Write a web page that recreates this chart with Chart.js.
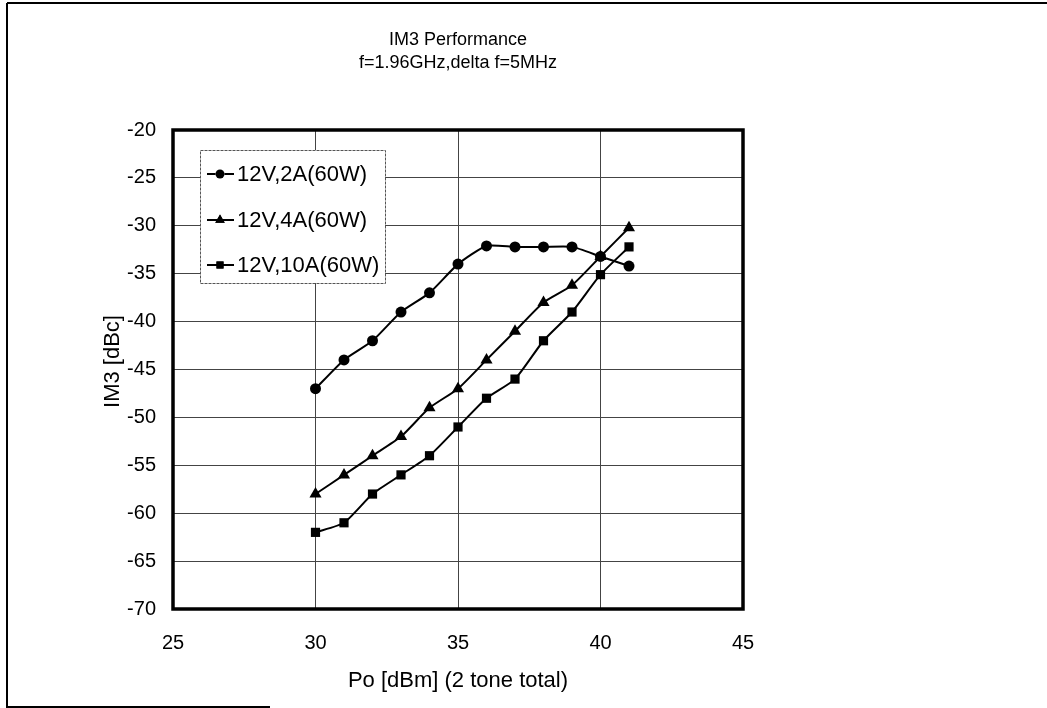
<!DOCTYPE html>
<html>
<head>
<meta charset="utf-8">
<script src="https://cdn.jsdelivr.net/npm/chart.js@4/dist/chart.umd.min.js"></script>
<style>
html,body{margin:0;padding:0;background:#fff;}
#wrap{width:1047px;height:708px;position:relative;}
</style>
</head>
<body>
<div id="wrap"><canvas id="c" width="1047" height="708"></canvas></div>
<script>
const titleLines = ["IM3 Performance", "f=1.96GHz,delta f=5MHz"];
const xTitle = "Po [dBm] (2 tone total)";
const yTitle = "IM3 [dBc]";
const poValues = [30, 31, 32, 33, 34, 35, 36, 37, 38, 39, 40, 41];
const seriesLabels = ["12V,2A(60W)", "12V,4A(60W)", "12V,10A(60W)"];
const im3_2A = [-47, -44, -42, -39, -37, -34, -32.1, -32.2, -32.2, -32.2, -33.2, -34.2];
const im3_4A = [-58, -56, -54, -52, -49, -47, -44, -41, -38, -36.2, -33.2, -30.2];
const im3_10A = [-62, -61, -58, -56, -54, -51, -48, -46, -42, -39, -35.1, -32.2];
const xTicks = [25, 30, 35, 40, 45];
const yTicks = [-20, -25, -30, -35, -40, -45, -50, -55, -60, -65, -70];

const FONT = "'Liberation Sans', Arial, sans-serif";
const styles = [
  {pointStyle: 'circle', radius: 5.5, legendRadius: 4.5},
  {pointStyle: 'triangle', radius: 7, legendRadius: 5.5},
  {pointStyle: 'rect', radius: 6.5, legendRadius: 5}
];
const seriesData = [im3_2A, im3_4A, im3_10A];

const datasets = seriesData.map((vals, i) => ({
  label: seriesLabels[i],
  data: poValues.map((x, j) => ({x: x, y: vals[j]})),
  borderColor: '#000',
  backgroundColor: '#000',
  borderWidth: 2,
  pointStyle: styles[i].pointStyle,
  pointRadius: styles[i].radius,
  pointBackgroundColor: '#000',
  pointBorderColor: '#000',
  pointBorderWidth: 0,
  tension: 0.2,
  fill: false
}));

const decor = {
  id: 'decor',
  beforeDraw(chart) {
    const ctx = chart.ctx;
    ctx.save();
    ctx.fillStyle = '#fff';
    ctx.fillRect(0, 0, chart.width, chart.height);
    ctx.strokeStyle = '#000';
    ctx.lineWidth = 2;
    ctx.beginPath();
    ctx.moveTo(7, 3); ctx.lineTo(1047, 3);
    ctx.moveTo(7, 3); ctx.lineTo(7, 707);
    ctx.lineTo(270, 707);
    ctx.stroke();
    ctx.restore();
  },
  afterDraw(chart) {
    const ctx = chart.ctx;
    const ca = chart.chartArea;
    const cx = (ca.left + ca.right) / 2;
    ctx.save();
    ctx.strokeStyle = '#000';
    ctx.lineWidth = 3.5;
    ctx.strokeRect(ca.left, ca.top, ca.right - ca.left, ca.bottom - ca.top);
    ctx.fillStyle = '#000';
    ctx.textAlign = 'center';
    ctx.textBaseline = 'middle';
    ctx.font = '18px ' + FONT;
    ctx.fillText(titleLines[0], cx, 40);
    ctx.fillText(titleLines[1], cx, 63);
    ctx.font = '22px ' + FONT;
    ctx.fillText(xTitle, cx, 681);
    ctx.save();
    ctx.translate(113, (ca.top + ca.bottom) / 2 - 8);
    ctx.rotate(-Math.PI / 2);
    ctx.fillText(yTitle, 0, 0);
    ctx.restore();
    // legend
    const lx = 200, ly = 150, lw = 185, lh = 133;
    ctx.fillStyle = '#fff';
    ctx.fillRect(lx, ly, lw, lh);
    ctx.strokeStyle = '#555';
    ctx.lineWidth = 1;
    ctx.setLineDash([3, 1]);
    ctx.strokeRect(lx + 0.5, ly + 0.5, lw, lh);
    ctx.setLineDash([]);
    const rows = [174, 220, 265];
    chart.data.datasets.forEach((ds, i) => {
      const y = rows[i];
      ctx.strokeStyle = '#000';
      ctx.lineWidth = 2;
      ctx.beginPath();
      ctx.moveTo(207, y); ctx.lineTo(234, y);
      ctx.stroke();
      Chart.helpers.drawPoint(ctx, {pointStyle: ds.pointStyle, radius: styles[i].legendRadius, rotation: 0, borderWidth: 0}, 220, y);
      ctx.fillStyle = '#000';
      ctx.fill();
      ctx.font = '22px ' + FONT;
      ctx.textAlign = 'left';
      ctx.textBaseline = 'middle';
      ctx.fillText(ds.label, 237, y + 1);
    });
    ctx.restore();
  }
};

new Chart(document.getElementById('c'), {
  type: 'line',
  data: {datasets: datasets},
  options: {
    responsive: false,
    animation: false,
    layout: {padding: {top: 130, right: 304, left: 0, bottom: 0}},
    plugins: {legend: {display: false}, title: {display: false}, tooltip: {enabled: false}},
    scales: {
      x: {
        type: 'linear',
        min: 25, max: 45,
        afterFit(s) { s.height = 99; },
        afterBuildTicks(s) { s.ticks = xTicks.map(v => ({value: v})); },
        grid: {color: '#444', lineWidth: 1, drawTicks: false},
        border: {display: false},
        ticks: {color: '#000', font: {family: FONT, size: 20}, padding: 22, maxRotation: 0}
      },
      y: {
        type: 'linear',
        min: -70, max: -20,
        afterFit(s) { s.width = 173; },
        afterBuildTicks(s) { s.ticks = yTicks.map(v => ({value: v})); },
        grid: {color: '#444', lineWidth: 1, drawTicks: false},
        border: {display: false},
        ticks: {color: '#000', font: {family: FONT, size: 20}, padding: 17}
      }
    }
  },
  plugins: [decor]
});
</script>
</body>
</html>
